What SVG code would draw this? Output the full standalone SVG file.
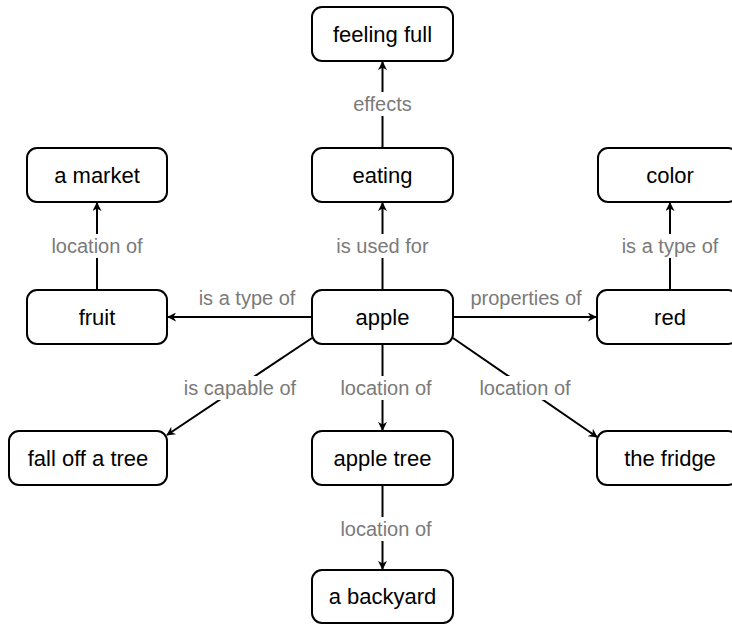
<svg xmlns="http://www.w3.org/2000/svg" width="732" height="625" viewBox="0 0 732 625">
<defs>
<marker id="arr" viewBox="0 0 10 10" refX="9" refY="5" markerWidth="9" markerHeight="9" markerUnits="userSpaceOnUse" orient="auto">
<path d="M0,0 L10,5 L0,10 L3,5 Z" fill="#000"/>
</marker>
<style>
.n rect{fill:#fff;stroke:#000;stroke-width:2}
.n text{font-family:"Liberation Sans",Arial,sans-serif;font-size:22px;fill:#000;text-anchor:middle}
.e line{stroke:#000;stroke-width:2;marker-end:url(#arr)}
.e rect{fill:#fff}
.e text{font-family:"Liberation Sans",Arial,sans-serif;font-size:20px;fill:#7a7a7a;text-anchor:middle}
</style>
</defs>
<rect width="732" height="625" fill="#fff"/>
<g id="connectors" class="e">
<line x1="382.5" y1="148" x2="382.5" y2="62"/>
<rect x="349" y="92" width="67" height="24"/><text x="382.5" y="111">effects</text>
<line x1="382.5" y1="290" x2="382.5" y2="203"/>
<rect x="334" y="234" width="98" height="24"/><text x="382.5" y="253">is used for</text>
<line x1="312" y1="317" x2="168" y2="317"/>
<text x="247" y="305">is a type of</text>
<line x1="453" y1="317" x2="596" y2="317"/>
<text x="526" y="305">properties of</text>
<line x1="97" y1="290" x2="97" y2="203"/>
<rect x="50" y="234" width="95" height="24"/><text x="97" y="253">location of</text>
<line x1="670" y1="290" x2="670" y2="203"/>
<rect x="619" y="234" width="102" height="24"/><text x="670" y="253">is a type of</text>
<line x1="312" y1="338" x2="167" y2="435"/>
<rect x="182" y="376" width="117" height="24"/><text x="240" y="395">is capable of</text>
<line x1="382.5" y1="344" x2="382.5" y2="430"/>
<rect x="337" y="376" width="97" height="24"/><text x="386" y="395">location of</text>
<line x1="453" y1="338" x2="597" y2="437"/>
<rect x="476" y="376" width="98" height="24"/><text x="525" y="395">location of</text>
<line x1="382.5" y1="485" x2="382.5" y2="569"/>
<rect x="337" y="517" width="97" height="24"/><text x="386" y="536">location of</text>
</g>
<g id="feeling-full" class="n"><rect x="312" y="7" width="141" height="54" rx="10"/><text x="382.5" y="41.5">feeling full</text></g>
<g id="eating" class="n"><rect x="312" y="148" width="141" height="54" rx="10"/><text x="382.5" y="182.5">eating</text></g>
<g id="apple" class="n"><rect x="312" y="290" width="141" height="54" rx="10"/><text x="382.5" y="324.5">apple</text></g>
<g id="a-market" class="n"><rect x="27" y="148" width="140" height="54" rx="10"/><text x="97" y="182.5">a market</text></g>
<g id="fruit" class="n"><rect x="27" y="290" width="140" height="54" rx="10"/><text x="97" y="324.5">fruit</text></g>
<g id="color" class="n"><rect x="598" y="148" width="140" height="54" rx="10"/><text x="670" y="182.5">color</text></g>
<g id="red" class="n"><rect x="597" y="290" width="141" height="54" rx="10"/><text x="670" y="324.5">red</text></g>
<g id="fall-off-a-tree" class="n"><rect x="9" y="431" width="158" height="54" rx="10"/><text x="88" y="465.5">fall off a tree</text></g>
<g id="apple-tree" class="n"><rect x="312" y="431" width="141" height="54" rx="10"/><text x="382.5" y="465.5">apple tree</text></g>
<g id="the-fridge" class="n"><rect x="597" y="431" width="141" height="54" rx="10"/><text x="670" y="465.5">the fridge</text></g>
<g id="a-backyard" class="n"><rect x="312" y="570" width="141" height="53" rx="10"/><text x="382.5" y="604">a backyard</text></g>
</svg>
